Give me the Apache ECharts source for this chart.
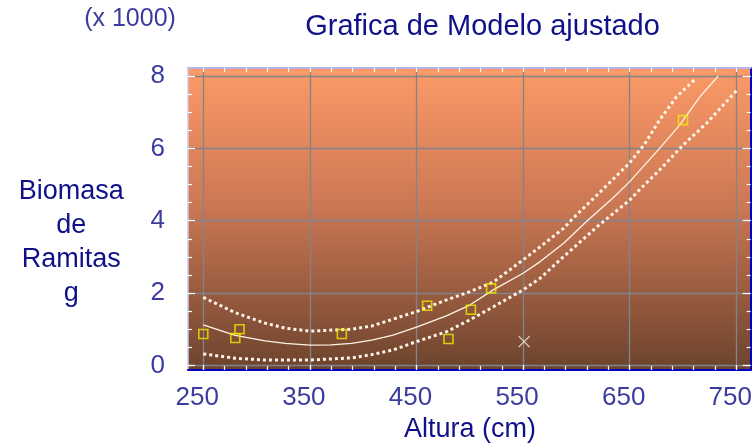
<!DOCTYPE html>
<html><head><meta charset="utf-8">
<script src="https://cdn.jsdelivr.net/npm/echarts@6/dist/echarts.min.js"></script>
<style>html,body{margin:0;padding:0;background:#fff}#c{width:755px;height:448px}</style>
</head><body><div id="c"></div>
<script>
// ---- data (Biomasa in thousands, Altura in cm) ----
const obsAltura = [250, 280, 284, 380, 460, 480, 501, 520, 700];
const obsBiomasa = [0.87, 0.76, 1.0, 0.87, 1.65, 0.73, 1.54, 2.13, 6.78];
const outAltura = [551];
const outBiomasa = [0.66];

const fitAltura = [250, 280, 308, 327, 350, 370, 389, 408, 428, 450, 478, 500, 522, 550, 566, 588, 611, 634, 650, 678, 697, 716, 733];
const fitBiomasa = [1.12, 0.83, 0.68, 0.61, 0.56, 0.57, 0.61, 0.70, 0.84, 1.06, 1.37, 1.67, 2.09, 2.55, 2.87, 3.38, 4.02, 4.62, 5.08, 6.0, 6.65, 7.43, 8.0];

const upAltura = [250, 280, 308, 327, 350, 389, 408, 428, 450, 478, 500, 522, 550, 566, 588, 597, 620, 650, 664, 678, 694, 711];
const upBiomasa = [1.88, 1.46, 1.17, 1.03, 0.95, 1.0, 1.09, 1.28, 1.49, 1.81, 2.04, 2.3, 2.92, 3.28, 3.79, 4.07, 4.73, 5.6, 6.12, 6.78, 7.43, 7.9];

const loAltura = [250, 280, 308, 350, 389, 408, 428, 450, 478, 500, 522, 550, 566, 588, 620, 650, 659, 678, 700, 722, 750];
const loBiomasa = [0.32, 0.2, 0.15, 0.15, 0.21, 0.3, 0.43, 0.66, 0.93, 1.26, 1.62, 2.09, 2.41, 3.01, 3.85, 4.57, 4.85, 5.4, 6.09, 6.69, 7.59];

const xMajorTicks = [250, 350, 450, 550, 650, 750];
const xMinorTicks = [250, 270, 290, 310, 330, 350, 370, 390, 410, 430, 450, 470, 490, 510, 530, 550, 570, 590, 610, 630, 650, 670, 690, 710, 730, 750];
const yMajorTicks = [0, 2, 4, 6, 8];
const yMinorTicks = [0, 0.5, 1, 1.5, 2, 2.5, 3, 3.5, 4, 4.5, 5, 5.5, 6, 6.5, 7, 7.5, 8];

const titleText = 'Grafica de Modelo ajustado';
const scaleText = '(x 1000)';
const xName = 'Altura (cm)';
const yName = 'Biomasa\nde\nRamitas\ng';

// ---- chart ----
const FONT = '"Liberation Sans", Arial, Helvetica, sans-serif';
const NAVY = '#10108A';
const TICKBLUE = '#3C3C9E';
const xMin = 235.66, xMax = 763.4, yMin = -0.125, yMax = 8.22;
const zip = (a, b) => a.map((v, i) => [v, b[i]]);

function xAx(o) {
  return {
    type: 'value', min: xMin, max: xMax, position: o.position,
    axisLine: o.axisLine || {show: false, onZero: false},
    axisTick: o.axisTick || {show: false},
    axisLabel: o.axisLabel || {show: false},
    splitLine: o.splitLine || {show: false}
  };
}
function yAx(o) {
  return {
    type: 'value', min: yMin, max: yMax, position: o.position,
    axisLine: o.axisLine || {show: false, onZero: false},
    axisTick: o.axisTick || {show: false},
    axisLabel: o.axisLabel || {show: false},
    splitLine: o.splitLine || {show: false}
  };
}
const whiteTick = (vals, len) => ({show: true, inside: true, length: len, customValues: vals, lineStyle: {color: '#FFFFFF', width: 1.2}});
const gridLine = {show: true, lineStyle: {color: '#80848C', width: 1.3}};

const chart = echarts.init(document.getElementById('c'), null, {renderer: 'canvas', width: 755, height: 448});
chart.setOption({
  animation: false,
  grid: {
    left: 188, top: 68, width: 563, height: 302, show: true, borderWidth: 0,
    backgroundColor: new echarts.graphic.LinearGradient(0, 0, 0, 1, [
      {offset: 0, color: '#FC9A67'},
      {offset: 0.45, color: '#CC7854'},
      {offset: 1, color: '#6C432D'}
    ])
  },
  xAxis: [
    xAx({position: 'bottom',
      axisLine: {show: true, onZero: false, lineStyle: {color: '#0000C8', width: 2}},
      axisTick: whiteTick(xMajorTicks, 5),
      axisLabel: {show: true, customValues: xMajorTicks, margin: 15, padding: [0, 12, 0, 0], color: TICKBLUE, fontSize: 26, fontFamily: FONT},
      splitLine: gridLine}),
    xAx({position: 'bottom', axisTick: whiteTick(xMinorTicks, 4)}),
    xAx({position: 'top',
      axisLine: {show: true, onZero: false, lineStyle: {color: '#B4B4E8', width: 2}},
      axisTick: whiteTick(xMinorTicks, 4)})
  ],
  yAxis: [
    yAx({position: 'left',
      axisLine: {show: true, onZero: false, lineStyle: {color: '#C8C8EE', width: 1.5}},
      axisTick: whiteTick(yMajorTicks, 7),
      axisLabel: {show: true, customValues: yMajorTicks, margin: 23, color: TICKBLUE, fontSize: 26, fontFamily: FONT},
      splitLine: gridLine}),
    yAx({position: 'left', axisTick: whiteTick(yMinorTicks, 4)}),
    yAx({position: 'right',
      axisLine: {show: true, onZero: false, lineStyle: {color: '#0000C8', width: 2}},
      axisTick: whiteTick(yMajorTicks, 8)}),
    yAx({position: 'right', axisTick: whiteTick(yMinorTicks, 4)})
  ],
  graphic: [
    {type: 'text', x: 482.5, y: 26.5, style: {text: titleText, align: 'center', verticalAlign: 'middle', fill: NAVY, font: '29px ' + FONT}},
    {type: 'text', x: 130, y: 19.5, style: {text: scaleText, align: 'center', verticalAlign: 'middle', fill: TICKBLUE, font: '25px ' + FONT}},
    {type: 'text', x: 71.3, y: 243, style: {text: yName, align: 'center', verticalAlign: 'middle', lineHeight: 34, fill: NAVY, font: '27px ' + FONT}},
    {type: 'text', x: 470, y: 429.5, style: {text: xName, align: 'center', verticalAlign: 'middle', fill: NAVY, font: '27px ' + FONT}}
  ],
  series: [
    {type: 'line', name: 'upper', data: zip(upAltura, upBiomasa), symbol: 'none', z: 3, silent: true,
      lineStyle: {color: '#FFF4E6', width: 3, type: [3, 3], cap: 'butt'}},
    {type: 'line', name: 'lower', data: zip(loAltura, loBiomasa), symbol: 'none', z: 3, silent: true,
      lineStyle: {color: '#FFF4E6', width: 3, type: [3, 3], cap: 'butt'}},
    {type: 'line', name: 'fit', data: zip(fitAltura, fitBiomasa), symbol: 'none', z: 4, silent: true,
      lineStyle: {color: '#FFF4E6', width: 1.3}},
    {type: 'scatter', name: 'obs', data: zip(obsAltura, obsBiomasa), symbol: 'rect', symbolSize: 9, z: 5, silent: true,
      itemStyle: {color: 'rgba(0,0,0,0)', borderColor: '#F2E800', borderWidth: 1.6}},
    {type: 'scatter', name: 'outlier', data: zip(outAltura, outBiomasa), symbol: 'path://M0,0L10,10M10,0L0,10', symbolSize: 11, z: 5, silent: true,
      itemStyle: {color: 'rgba(0,0,0,0)', borderColor: '#F8F2EA', borderWidth: 1.3}}
  ]
});
</script>
</body></html>
